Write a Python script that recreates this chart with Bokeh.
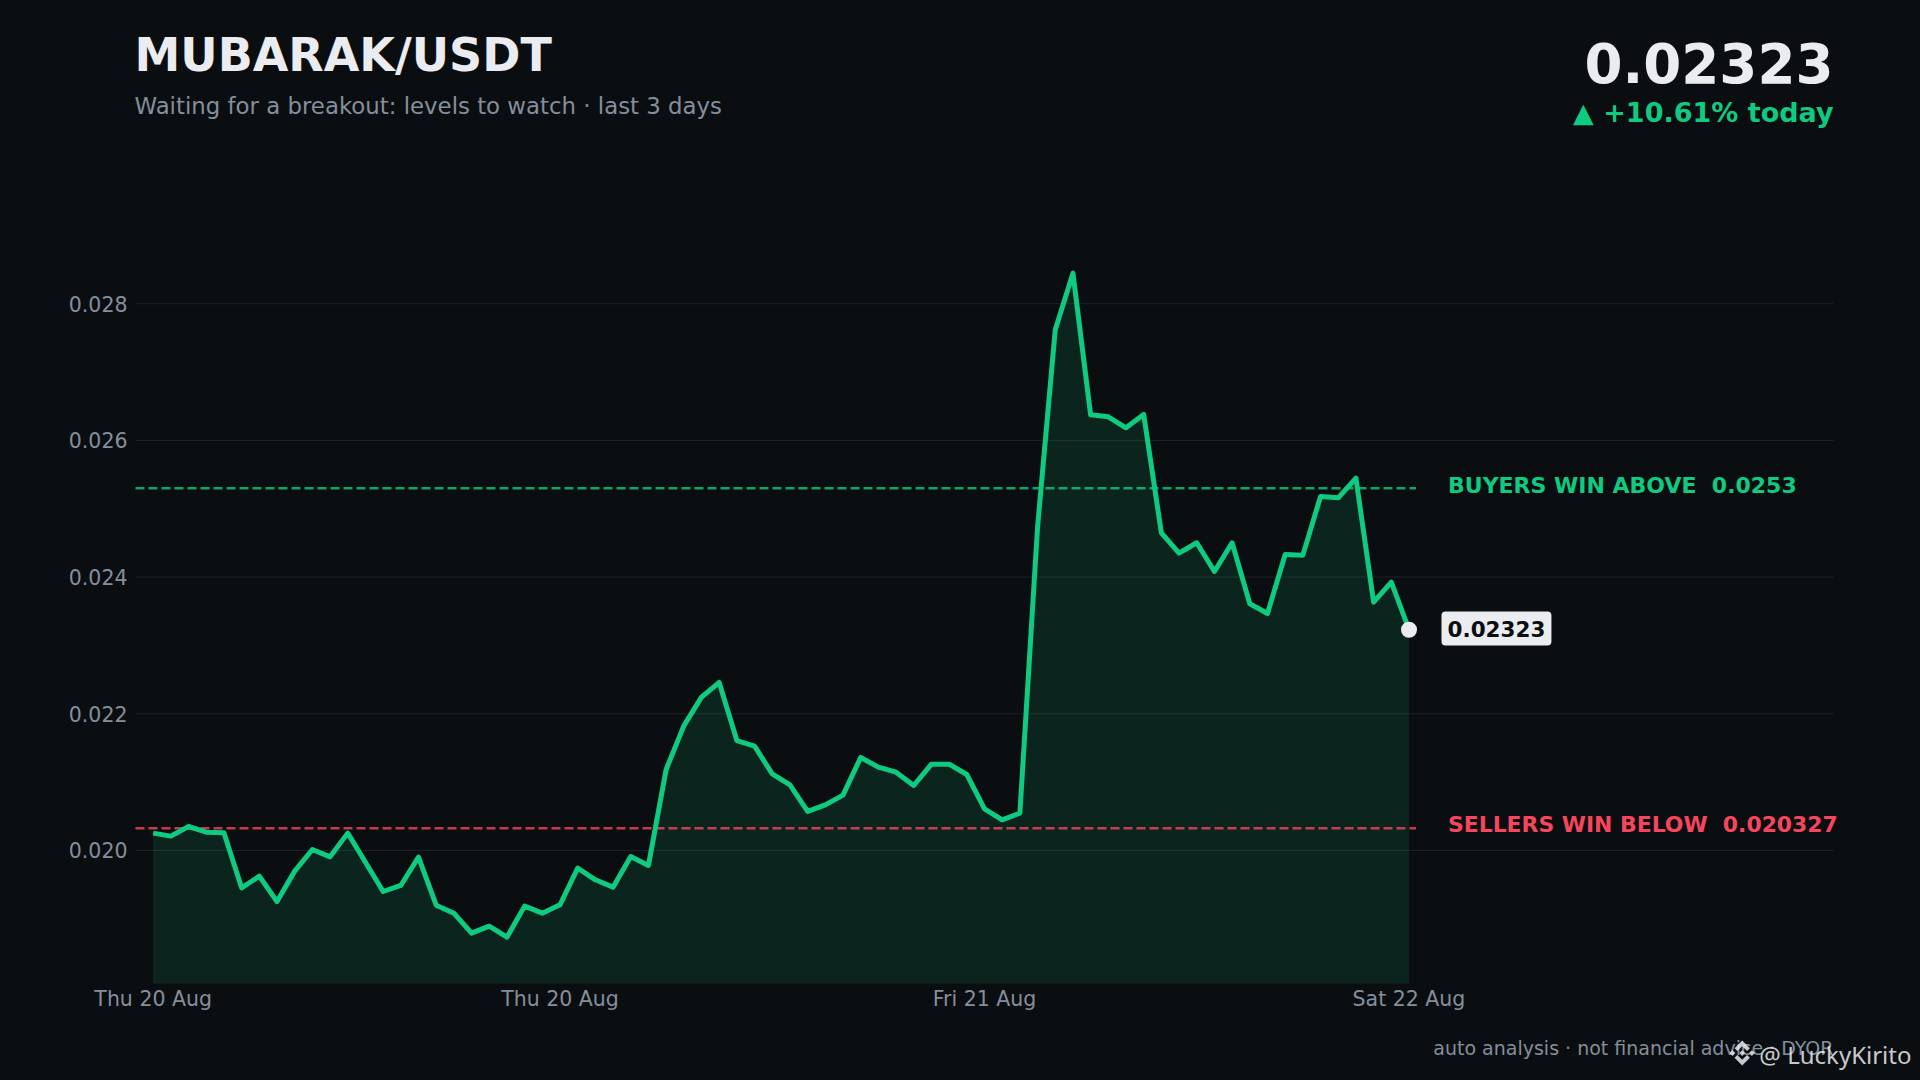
from bokeh.plotting import figure
from bokeh.models import FixedTicker, Label, PolyAnnotation
from bokeh.embed import file_html
from bokeh.resources import INLINE

BG = "#0b0e11"
GREEN = "#0ecb81"
RED = "#f6465d"
WHITE = "#eaecef"
GREY = "#848e9c"
GRID = "#1e2329"

prices = [0.020254, 0.02021, 0.020351, 0.020268, 0.020258, 0.019454, 0.019624, 0.019254, 0.019698, 0.020015,
          0.019907, 0.020254, 0.019829, 0.0194, 0.019488, 0.019902, 0.0192, 0.019083, 0.01879, 0.018893,
          0.018732, 0.019186, 0.019083, 0.019205, 0.019742, 0.019571, 0.019464, 0.019912, 0.019781, 0.021185,
          0.021824, 0.022243, 0.022458, 0.021609, 0.021526, 0.021122, 0.020961, 0.020571, 0.020668, 0.02081,
          0.021361, 0.021219, 0.021146, 0.020951, 0.021263, 0.021263, 0.021112, 0.02061, 0.020449, 0.020546,
          0.02473, 0.027618, 0.028447, 0.026374, 0.026345, 0.026184, 0.026379, 0.024648, 0.02435, 0.024502,
          0.024082, 0.024502, 0.023609, 0.023468, 0.024331, 0.024321, 0.025179, 0.02516, 0.025448, 0.023633,
          0.023926, 0.02323]
hours = list(range(len(prices)))
buyers_level = 0.0253
sellers_level = 0.020327
y_ticks = [0.020, 0.022, 0.024, 0.026, 0.028]
y_labels = ["0.020", "0.022", "0.024", "0.026", "0.028"]
x_ticks = [0, 23, 47, 71]
x_labels = ["Thu 20 Aug", "Thu 20 Aug", "Fri 21 Aug", "Sat 22 Aug"]
title = "MUBARAK/USDT"
subtitle = "Waiting for a breakout: levels to watch · last 3 days"
price_text = "0.02323"
change_text = "▲ +10.61% today"
buyers_text = "BUYERS WIN ABOVE\u00a0\u00a00.0253"
sellers_text = "SELLERS WIN BELOW\u00a0\u00a00.020327"
footer = "auto analysis · not financial advice · DYOR"
watermark = "@ LuckyKirito"

W, H = 1920, 1080
PLOT_L, PLOT_R, PLOT_B = 135.0, 1833.0, 983.0   # plot area in page pixels
X_LO, X_HI = -1, 95
Y_LO = 0.018054
PX_PER_Y = 68350.0
px_per_x = (PLOT_R - PLOT_L) / (X_HI - X_LO)

# The frame fills the canvas so that headers and footers are not clipped; the axes sit at fixed locations in it.
p = figure(width=W, height=H, output_backend="svg", toolbar_location=None,
           x_range=(X_LO - PLOT_L / px_per_x, X_HI + (W - PLOT_R) / px_per_x),
           y_range=(Y_LO - (H - PLOT_B) / PX_PER_Y, Y_LO + PLOT_B / PX_PER_Y),
           min_border=0, background_fill_color=BG, border_fill_color=BG, outline_line_color=None)

p.grid.visible = False
p.yaxis.ticker = FixedTicker(ticks=y_ticks)
p.yaxis.major_label_overrides = dict(zip(y_ticks, y_labels))
p.yaxis.fixed_location = X_LO
p.xaxis.ticker = FixedTicker(ticks=x_ticks)
p.xaxis.major_label_overrides = dict(zip(x_ticks, x_labels))
p.xaxis.fixed_location = Y_LO
for ax in (p.xaxis[0], p.yaxis[0]):
    ax.axis_line_color = None
    ax.major_tick_line_color = None
    ax.minor_tick_line_color = None
    ax.major_tick_out = 0
    ax.major_tick_in = 0
    ax.major_label_text_color = GREY
    ax.major_label_text_font = "DejaVu Sans"
    ax.major_label_text_font_size = "20.5px"
p.yaxis.major_label_standoff = 8
p.xaxis.major_label_standoff = 3

p.segment(x0=[X_LO] * len(y_ticks), y0=y_ticks, x1=[X_HI] * len(y_ticks), y1=y_ticks, line_color=GRID, line_width=1)
p.varea(x=hours, y1=[Y_LO] * len(prices), y2=prices, fill_color=GREEN, fill_alpha=0.12)
p.line([X_LO, 71.4], [buyers_level, buyers_level], line_color=GREEN, line_width=2.5, line_alpha=0.8, line_dash="9 4")
p.line([X_LO, 71.4], [sellers_level, sellers_level], line_color=RED, line_width=2.5, line_alpha=0.8, line_dash="9 4")
p.line(hours, prices, line_color=GREEN, line_width=5, line_join="round")
p.scatter([hours[-1]], [prices[-1]], size=16, fill_color=WHITE, line_color=None)


def lab(text, x, y, size, color, bold=False, align="left", font="DejaVu Sans", alpha=1.0, **kw):
    p.add_layout(Label(x=x, y=H - y, x_units="screen", y_units="screen", text=text,
                       text_font=font, text_font_size=f"{size}px", text_color=color, text_alpha=alpha,
                       text_font_style="bold" if bold else "normal", text_align=align,
                       text_baseline="middle", **kw))


lab(title, 134, 54, 46, WHITE, bold=True)
lab(subtitle, 134, 105, 22.85, GREY)
lab(price_text, 1833, 62, 54.7, WHITE, bold=True, align="right")
lab(change_text, 1833, 112, 27, GREEN, bold=True, align="right")
lab(buyers_text, 1447.5, 485, 22, GREEN, bold=True)
lab(sellers_text, 1447.5, 824, 21.9, RED, bold=True)
lab(price_text, 1441, 628, 21.5, BG, bold=True, background_fill_color=WHITE, padding=(6, 9), border_radius=4)
lab(footer, 1833, 1047, 19, GREY, align="right")
lab(watermark, 1911, 1054, 24, WHITE, align="right", font="Noto Sans", alpha=0.85)

# watermark logo, in units of its own half-height
LOGO_X, LOGO_Y, LOGO_R = 1741.7, 1052.5, 12.5
logo_top = [(-0.388, -0.16), (0, -0.548), (0.388, -0.16), (0.614, -0.385), (0, -1), (-0.614, -0.385)]
logo_bottom = [(x, -y) for x, y in logo_top]
logo_mid = [(-0.23, 0), (0, -0.23), (0.23, 0), (0, 0.23)]
logo_left = [(x - 0.774, y) for x, y in logo_mid]
logo_right = [(x + 0.774, y) for x, y in logo_mid]
for shape in (logo_top, logo_bottom, logo_mid, logo_left, logo_right):
    p.add_layout(PolyAnnotation(xs=[LOGO_X + LOGO_R * x for x, _ in shape],
                                ys=[H - (LOGO_Y + LOGO_R * y) for _, y in shape],
                                xs_units="screen", ys_units="screen", fill_color=WHITE, fill_alpha=0.85,
                                line_color=None, editable=False))

html = file_html(p, INLINE)
html = html.replace("</head>", f"<style>html,body{{background:{BG};}}</style></head>", 1)
open("out.html", "w").write(html)
